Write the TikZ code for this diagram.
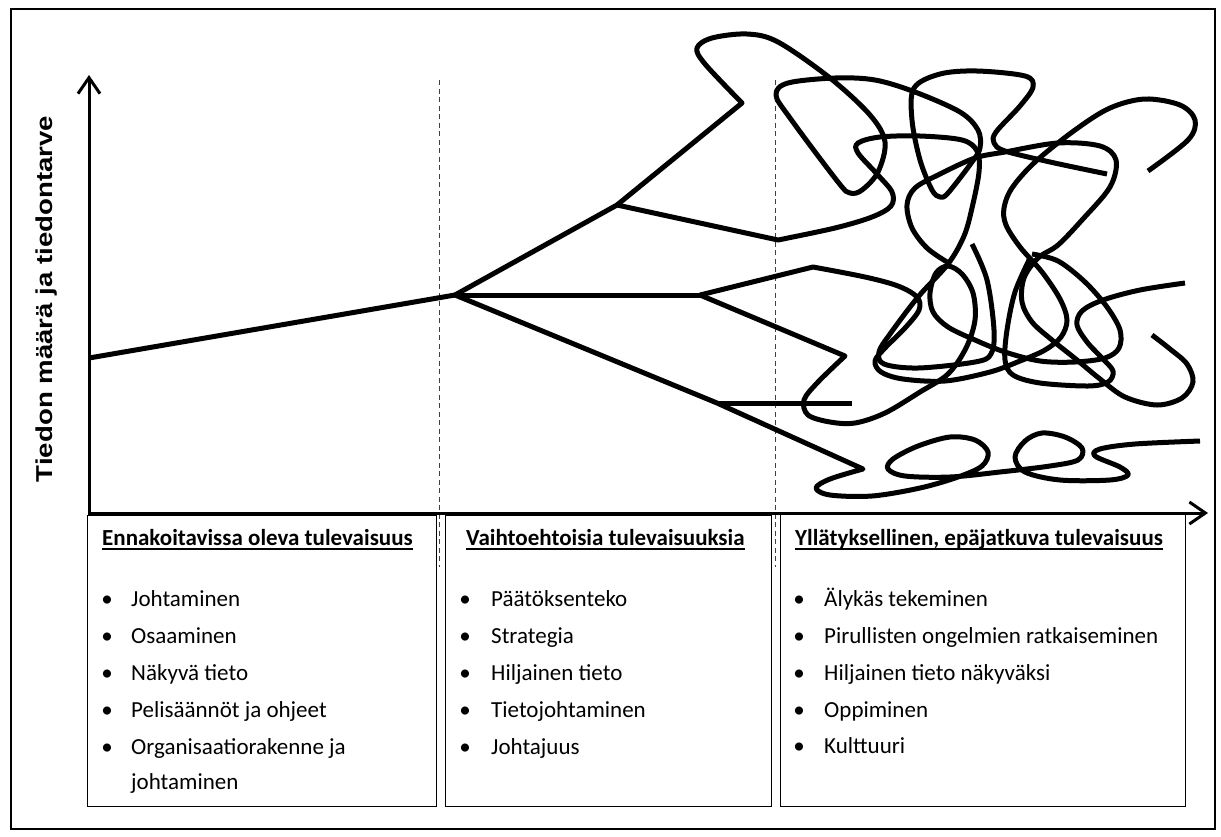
\documentclass[tikz,border=0pt]{standalone}
\usepackage{fontspec}
\setmainfont{Carlito}
\newfontfamily\axisfont{Liberation Sans}
\usetikzlibrary{arrows.meta}

\begin{document}
\begin{tikzpicture}[x=1pt,y=-1pt,
  frame/.style={line width=2pt},
  axes/.style={line width=3pt, line join=miter,
    {Straight Barb[length=16pt,width=22pt]}-{Straight Barb[length=16pt,width=22pt]}},
  divider/.style={line width=0.9pt, black!75, dash pattern=on 5pt off 3.5pt},
  trend/.style={line width=5pt, line join=miter},
  scrib/.style={line width=5pt, line join=round},
  infobox/.style={draw, line width=1.3pt, inner sep=0pt, anchor=north west},
  txt/.style={anchor=base west, inner sep=0pt, font=\fontsize{23}{28}\selectfont},
  head/.style={txt, font=\fontsize{23}{28}\selectfont\bfseries},
  bullet/.style={anchor=base, inner sep=0pt, font=\fontsize{23}{28}\selectfont},
  uline/.style={line width=1.3pt}
]
\useasboundingbox (0,0) rectangle (1221,836);

% outer frame
\draw[frame] (11,9) rectangle (1215,829);

% period dividers
\coordinate (d1top) at (439,80);  \coordinate (d1bot) at (439,567);
\coordinate (d2top) at (775,80);  \coordinate (d2bot) at (775,567);
\draw[divider] (d1top) -- (d1bot);
\draw[divider] (d2top) -- (d2bot);

% axes
\coordinate (ytip) at (89,75);
\coordinate (xtip) at (1208,513);
\draw[axes] (ytip) |- (xtip);

\node[rotate=90, inner sep=0pt, font=\axisfont\bfseries\fontsize{23}{27}\selectfont]
  (ylabel) at (47,299) {\scalebox{1.2}[1]{Tiedon määrä ja tiedontarve}};

% key points of the branching line
\coordinate (start) at (89,358);
\coordinate (fork) at (455,295);
\coordinate (upfork) at (617,205);
\coordinate (midend) at (700,295);
\coordinate (lowknee) at (717,403);
\coordinate (lowtip) at (863,469);
\coordinate (stubend) at (852,403);

% predictable future: one line
\draw[trend] (start) -- (fork);
\draw[trend] (fork) -- (midend);
\draw[trend] (lowknee) -- (stubend);

% upper branch running into the top loops
\draw[scrib] (fork) -- (upfork) -- (742,103) -- plot[smooth,tension=0.55] coordinates {
  (742,103) (705,64) (697,48) (712,38) (747,34) (778,42) (830,78) (870,115)
  (885,142) (878,172) (862,190) (850,193) (838,182) (790,118) (776,95) (788,83)
  (835,78) (875,80) (915,92) (960,112) (978,130) (980,148) (972,162) (948,193)
  (940,197) (932,190) (920,160) (912,120) (914,88) (940,74) (977,71) (1025,76)
  (1033,87) (1020,106) (996,132) (994,143) (1005,151) (1050,162) (1107,174)};

% second upper branch and the inner teardrop
\draw[scrib] (upfork) -- (778,240) -- plot[smooth,tension=0.55] coordinates {
  (778,240) (835,228) (872,217) (891,206) (892,192) (877,174) (858,153) (858,143)
  (880,137) (920,136) (962,140) (977,151) (979,172) (972,208) (964,236) (948,264)
  (918,297) (890,334) (879,352) (884,364) (918,368) (975,362) (991,354) (994,330)
  (987,280) (972,244)};

% middle branch, upper arm
\draw[scrib] (midend) -- (813,267) -- plot[smooth,tension=0.55] coordinates {
  (813,267) (865,277) (898,286) (917,297) (919,310) (905,328) (885,348) (875,361)
  (881,372) (903,379) (945,381) (990,372) (1020,361) (1045,350) (1061,337) (1067,320)
  (1060,299) (1042,272) (1020,247) (1006,225) (1004,208) (1012,188) (1035,162)
  (1075,130) (1110,108) (1145,99) (1180,105) (1195,120) (1188,140) (1148,171)};

% middle branch, lower arm
\draw[scrib] (midend) -- (845,356) -- plot[smooth,tension=0.55] coordinates {
  (845,356) (818,382) (804,400) (808,415) (830,422) (855,423) (885,413) (920,392)
  (948,374) (966,348) (975,320) (973,293) (962,274) (948,266) (936,273) (930,293)
  (933,312) (948,327) (975,340) (1005,352) (1040,361) (1075,362) (1105,358)
  (1119,348) (1120,330) (1107,307) (1085,282) (1058,261) (1032,254)};

% long arc and the right-hand hook
\draw[scrib] plot[smooth,tension=0.55] coordinates {
  (947,262) (927,248) (912,228) (907,205) (915,188) (940,174) (975,158) (1005,152)
  (1058,143) (1100,146) (1116,160) (1110,187) (1082,220) (1058,245) (1038,258)
  (1024,278) (1022,302) (1032,322) (1052,340) (1077,360) (1100,379) (1125,397)
  (1157,405) (1182,398) (1193,382) (1187,364) (1170,349) (1152,335)};

% right teardrop
\draw[scrib] plot[smooth,tension=0.55] coordinates {
  (1185,283) (1140,290) (1103,300) (1082,311) (1077,325) (1087,342) (1102,358)
  (1113,371) (1108,382) (1088,386) (1040,383) (1013,375) (1005,360) (1007,330)
  (1015,292) (1030,258)};

% lower branch with the flat loops
\draw[scrib] (fork) -- (lowknee) -- (lowtip) -- plot[smooth,tension=0.55] coordinates {
  (863,469) (830,479) (816,488) (830,495) (872,496) (920,488) (958,477) (982,466)
  (988,452) (975,440) (950,437) (918,446) (893,459) (888,469) (905,476) (950,477)
  (1000,472) (1050,466) (1078,460) (1082,448) (1065,437) (1042,433) (1025,441)
  (1015,457) (1025,472) (1060,480) (1110,480) (1128,475) (1120,467) (1095,456)
  (1100,449) (1135,444) (1200,441)};

% description boxes
\node[infobox, minimum width=349pt, minimum height=291pt] (box1) at (87,515) {};
\node[infobox, minimum width=326pt, minimum height=291pt] (box2) at (445,515) {};
\node[infobox, minimum width=405pt, minimum height=292pt] (box3) at (780,514) {};

\node[head] (h1) at (102,545) {Ennakoitavissa oleva tulevaisuus};
\node[head] (h2) at (466,545) {Vaihtoehtoisia tulevaisuuksia};
\node[head] (h3) at (795,545) {Yllätyksellinen, epäjatkuva tulevaisuus};
\foreach \h in {h1,h2,h3}
  \draw[uline] ([yshift=-4pt]\h.base west) -- ([yshift=-4pt]\h.base east);

% box 1 items
\foreach \y/\t [count=\i] in {606/Johtaminen, 643/Osaaminen, 680/Näkyvä tieto,
    717/Pelisäännöt ja ohjeet, 754/Organisaatiorakenne ja} {
  \node[bullet] (b1dot\i) at (107,\y) {•};
  \node[txt] (b1item\i) at (131,\y) {\t};
}
\node[txt] (b1item6) at (131,789) {johtaminen};

% box 2 items
\foreach \y/\t [count=\i] in {606/Päätöksenteko, 643/Strategia, 680/Hiljainen tieto,
    717/Tietojohtaminen, 754/Johtajuus} {
  \node[bullet] (b2dot\i) at (465,\y) {•};
  \node[txt] (b2item\i) at (491,\y) {\t};
}

% box 3 items
\foreach \y/\t [count=\i] in {606/Älykäs tekeminen, 643/Pirullisten ongelmien ratkaiseminen,
    680/Hiljainen tieto näkyväksi, 717/Oppiminen, 753/Kulttuuri} {
  \node[bullet] (b3dot\i) at (799,\y) {•};
  \node[txt] (b3item\i) at (824,\y) {\t};
}
\end{tikzpicture}
\end{document}
